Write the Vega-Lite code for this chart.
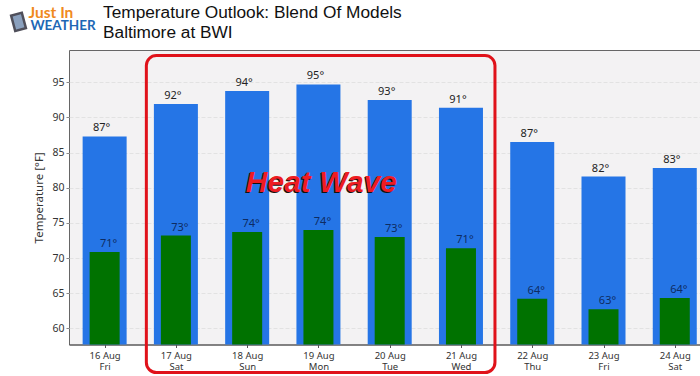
{
"$schema":"https://vega.github.io/schema/vega-lite/v6.json",
"width":632,"height":294.5,
"autosize":{"type":"none"},
"padding":{"left":69,"top":50,"right":0,"bottom":31},
"background":"#ffffff",
"title":{"text":["Temperature Outlook: Blend Of Models","Baltimore at BWI"],"anchor":"start","frame":"group","dx":34,"dy":50,"offset":0,"baseline":"alphabetic","font":"Liberation Sans","fontSize":17.3,"fontWeight":"normal","color":"#111111","lineHeight":20.5,"align":"left"},
"config":{"view":{"fill":"#f3f2f3","stroke":"#666666","strokeWidth":1},"font":"Noto Sans"},
"datasets":{
"days":[
{"date":"2019-08-16T00:00:00Z","high":87.3,"low":70.85,"highLabel":"87°","lowLabel":"71°"},
{"date":"2019-08-17T00:00:00Z","high":91.9,"low":73.2,"highLabel":"92°","lowLabel":"73°"},
{"date":"2019-08-18T00:00:00Z","high":93.75,"low":73.7,"highLabel":"94°","lowLabel":"74°"},
{"date":"2019-08-19T00:00:00Z","high":94.7,"low":74.0,"highLabel":"95°","lowLabel":"74°"},
{"date":"2019-08-20T00:00:00Z","high":92.5,"low":73.0,"highLabel":"93°","lowLabel":"73°"},
{"date":"2019-08-21T00:00:00Z","high":91.4,"low":71.4,"highLabel":"91°","lowLabel":"71°"},
{"date":"2019-08-22T00:00:00Z","high":86.5,"low":64.2,"highLabel":"87°","lowLabel":"64°"},
{"date":"2019-08-23T00:00:00Z","high":81.6,"low":62.7,"highLabel":"82°","lowLabel":"63°"},
{"date":"2019-08-24T00:00:00Z","high":82.8,"low":64.3,"highLabel":"83°","lowLabel":"64°"}],
"box":[{"start":"2019-08-16T14:03:00Z","end":"2019-08-21T11:27:00Z","top":98.8,"bottom":53.7}],
"note":[{"date":"2019-08-19T01:00:00Z","value":80.7,"label":"Heat Wave"}],
"logo1":[{"date":"2019-08-14T22:24:00Z","value":104.9,"label":"Just In"}],
"logo2":[{"date":"2019-08-14T23:00:00Z","value":103.0,"label":"WEATHER"}],
"phone":[{"date":"2019-08-14T19:00:00Z","value":103.6}]
},
"encoding":{
"x":{"field":"date","type":"temporal","title":null,"scale":{"type":"utc","nice":false,"padding":0,"domain":["2019-08-15T12:00:00Z","2019-08-24T08:50:00Z"]},
"axis":{"values":["2019-08-16T00:00:00Z","2019-08-17T00:00:00Z","2019-08-18T00:00:00Z","2019-08-19T00:00:00Z","2019-08-20T00:00:00Z","2019-08-21T00:00:00Z","2019-08-22T00:00:00Z","2019-08-23T00:00:00Z","2019-08-24T00:00:00Z"],
"labelExpr":"split(utcFormat(datum.value,'%d %b|%a'),'|')","labelFontSize":9.5,"labelColor":"#333333","labelFont":"Noto Sans","labelLineHeight":11,"labelPadding":3,"tickSize":3,"tickColor":"#555555","domainColor":"#555555","grid":false,"labelFlush":false,"labelOverlap":false}}
},
"layer":[
{"data":{"name":"days"},"mark":{"type":"bar","size":44,"color":"#2575e6","clip":true},
"encoding":{"y":{"field":"high","type":"quantitative","title":"Temperature [°F]","scale":{"domain":[57.7,99.6],"zero":false,"nice":false},
"axis":{"values":[60,65,70,75,80,85,90,95],"labelFontSize":10.5,"labelFont":"Noto Sans","labelColor":"#333333","titleFont":"Noto Sans","titleFontSize":11.5,"titleFontWeight":"normal","titleColor":"#333333","titlePadding":7,"tickSize":3,"tickColor":"#888888","domain":false,"grid":true,"gridColor":"#e2e2e2","gridDash":[4,2],"gridWidth":1}}}},
{"data":{"name":"days"},"mark":{"type":"bar","size":30,"color":"#007200","clip":true},
"encoding":{"y":{"field":"low","type":"quantitative"}}},
{"data":{"name":"days"},"mark":{"type":"text","dx":-3,"dy":-8,"fontSize":11,"color":"#222222","font":"Noto Sans"},
"encoding":{"y":{"field":"high","type":"quantitative"},"text":{"field":"highLabel"}}},
{"data":{"name":"days"},"mark":{"type":"text","dx":4,"dy":-8,"fontSize":11,"color":"#0e2c62","font":"Noto Sans"},
"encoding":{"y":{"field":"low","type":"quantitative"},"text":{"field":"lowLabel"}}},
{"data":{"name":"box"},"mark":{"type":"rect","filled":false,"fill":null,"stroke":"#e0121a","strokeWidth":3,"cornerRadius":10},
"encoding":{"x":{"field":"start","type":"temporal"},"x2":{"field":"end"},"y":{"field":"top","type":"quantitative"},"y2":{"field":"bottom"}}},
{"data":{"name":"note"},"mark":{"type":"text","fontSize":30,"fontWeight":"bold","fontStyle":"italic","font":"Liberation Sans","color":"#111111","dx":-1,"dy":1.5},
"encoding":{"y":{"field":"value","type":"quantitative"},"text":{"field":"label"}}},
{"data":{"name":"note"},"mark":{"type":"text","fontSize":30,"fontWeight":"bold","fontStyle":"italic","font":"Liberation Sans","color":"#ee1c22"},
"encoding":{"y":{"field":"value","type":"quantitative"},"text":{"field":"label"}}},
{"data":{"name":"phone"},"mark":{"type":"point","shape":"M-0.7,-1 L0.7,-1 L0.7,1 L-0.7,1 Z","size":250,"angle":-15,"filled":true,"fill":"#8aa0bd","stroke":"#4f4f5a","strokeWidth":2.5,"opacity":1},
"encoding":{"y":{"field":"value","type":"quantitative"}}},
{"data":{"name":"logo1"},"mark":{"type":"text","align":"left","fontSize":15.5,"fontWeight":"bold","font":"Lato","color":"#f08a1d"},
"encoding":{"y":{"field":"value","type":"quantitative"},"text":{"field":"label"}}},
{"data":{"name":"logo2"},"mark":{"type":"text","align":"left","fontSize":13.5,"fontWeight":"bold","font":"Lato","color":"#1d67b5"},
"encoding":{"y":{"field":"value","type":"quantitative"},"text":{"field":"label"}}}
]
}
